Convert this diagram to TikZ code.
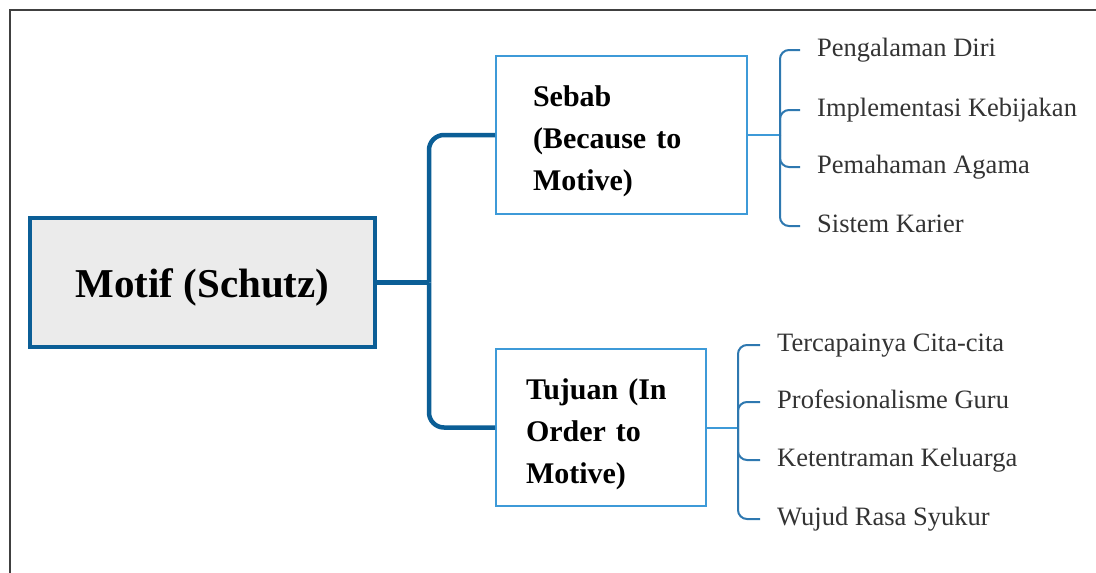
\documentclass[tikz,border=0pt]{standalone}
\usepackage{fontspec}
\setmainfont{Liberation Serif}
\definecolor{darkblue}{HTML}{0B5E96}
\definecolor{lightblue}{HTML}{3D9AD8}
\definecolor{midblue}{HTML}{2E78B0}
\definecolor{boxgray}{HTML}{EBEBEB}
\definecolor{framegray}{HTML}{404040}
\definecolor{itemgray}{HTML}{333333}
\tikzset{
  framebox/.style={draw=framegray, line width=2pt},
  mainbox/.style={draw=darkblue, line width=4.5pt, fill=boxgray, minimum width=345, minimum height=129,
    font=\fontsize{41}{46}\selectfont\bfseries, text=black, inner sep=0, text height=38pt, text depth=9pt},
  subbox/.style={draw=lightblue, line width=2pt, fill=white, align=left,
    font=\fontsize{30}{42}\selectfont\bfseries, text=black},
  trunk/.style={draw=darkblue, line width=4.5pt, rounded corners=15pt},
  stem/.style={draw=lightblue, line width=2pt},
  brk/.style={draw=midblue, line width=2pt, rounded corners=9pt, shorten >=17pt},
  item/.style={anchor=west, inner sep=0, font=\fontsize{26.5}{30}\selectfont, text=itemgray,
    text height=18pt, text depth=6pt},
}
\newcommand{\toprule}{\rule{0pt}{34pt}}
\begin{document}
\begin{tikzpicture}[x=1pt,y=-1pt]
\clip (0,0) rectangle (1096,573);
\fill[white] (0,0) rectangle (1096,573);
\draw[framebox] (10,590) -- (10,10) -- (1110,10);

\node[mainbox] (main) at (202.5,282.5) {Motif (Schutz)};
\node[subbox, text width=177, inner xsep=37, minimum height=158] (sebab) at (621.5,135)
  {\toprule Sebab\\(Because to\\Motive)};
\node[subbox, text width=150, inner xsep=30, minimum height=157] (tujuan) at (601,427.5)
  {\toprule Tujuan (In\\Order to\\Motive)};

\coordinate (jt) at (429,282.5);
\draw[trunk] (main.east) -- (jt);
\draw[trunk] (jt) |- (sebab.west);
\draw[trunk] (jt) |- (tujuan.west);

% Sebab items
\coordinate (h1) at (780,135);
\draw[stem] (sebab.east) -- (h1);
\node[item] (s1) at (817,50) {Pengalaman Diri};
\node[item] (s2) at (817,110) {Implementasi Kebijakan};
\node[item] (s3) at (817,167) {Pemahaman Agama};
\node[item] (s4) at (817,226) {Sistem Karier};
\foreach \n in {s1,s2,s3,s4} \draw[brk] (h1) |- (\n.west);

% Tujuan items
\coordinate (h2) at (738,427.5);
\draw[stem] (tujuan.east) -- (h2);
\node[item] (t1) at (777,345) {Tercapainya Cita-cita};
\node[item] (t2) at (777,402) {Profesionalisme Guru};
\node[item] (t3) at (777,460) {Ketentraman Keluarga};
\node[item] (t4) at (777,519) {Wujud Rasa Syukur};
\foreach \n in {t1,t2,t3,t4} \draw[brk] (h2) |- (\n.west);
\end{tikzpicture}
\end{document}
